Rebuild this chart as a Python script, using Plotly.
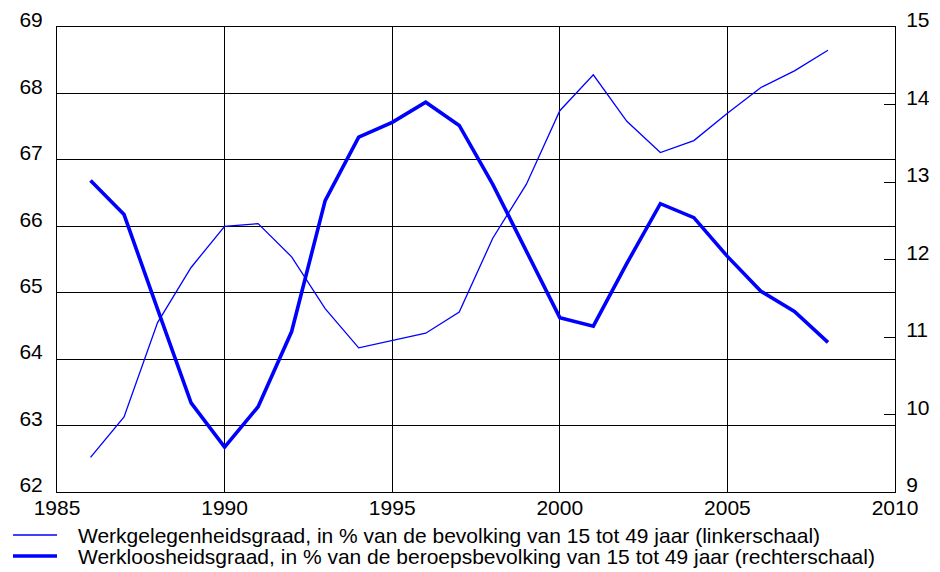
import plotly.graph_objects as go

years = list(range(1986, 2009))
werkgelegenheid = [62.52, 63.13, 64.55, 65.38, 66.00, 66.04, 65.54, 64.76, 64.17, 64.28,
                   64.39, 64.71, 65.82, 66.63, 67.74, 68.28, 67.58, 67.11, 67.29, 67.70,
                   68.09, 68.34, 68.65]
werkloosheid = [13.02, 12.58, 11.36, 10.15, 9.58, 10.10, 11.07, 12.76, 13.58, 13.77,
                14.03, 13.73, 12.97, 12.10, 11.25, 11.14, 11.95, 12.72, 12.54, 12.04,
                11.59, 11.33, 10.93]
x_ticks = [1985, 1990, 1995, 2000, 2005, 2010]
left_ticks = [62, 63, 64, 65, 66, 67, 68, 69]
right_ticks = [9, 10, 11, 12, 13, 14, 15]
legend_labels = [
    "Werkgelegenheidsgraad, in % van de bevolking van 15 tot 49 jaar (linkerschaal)",
    "Werkloosheidsgraad, in % van de beroepsbevolking van 15 tot 49 jaar (rechterschaal)",
]

FONT = "Liberation Sans, Arial, sans-serif"
BLUE = "#0000ff"
FS = 21

fig = go.Figure()
fig.add_trace(go.Scatter(x=years, y=werkgelegenheid, mode="lines", name=legend_labels[0],
                         line=dict(color=BLUE, width=1.3), yaxis="y", showlegend=False))
fig.add_trace(go.Scatter(x=years, y=werkloosheid, mode="lines", name=legend_labels[1],
                         line=dict(color=BLUE, width=3.6), yaxis="y2", showlegend=False))

# manual legend (paper coords)
plot_w = 838
plot_h = 465
def px_x(p):
    return (p - 57) / plot_w
def px_y(p):
    return (492 - p) / plot_h

widths = [1.3, 3.6]
rows = [535, 556]
for lbl, w, r in zip(legend_labels, widths, rows):
    fig.add_shape(type="line", xref="paper", yref="paper",
                  x0=px_x(13), x1=px_x(57), y0=px_y(r), y1=px_y(r),
                  line=dict(color=BLUE, width=w))
    fig.add_annotation(xref="paper", yref="paper", x=px_x(76), y=px_y(r),
                       text=lbl, showarrow=False, xanchor="left", yanchor="middle",
                       font=dict(family=FONT, size=FS, color="#000000"))

fig.update_layout(
    width=940, height=572,
    margin=dict(l=57, r=45, t=27, b=80, autoexpand=False),
    paper_bgcolor="white", plot_bgcolor="white",
    font=dict(family=FONT, size=FS, color="#000000"),
    xaxis=dict(range=[1985, 2010], tickvals=x_ticks, showgrid=True, gridcolor="black",
               gridwidth=1, showline=True, linecolor="black", linewidth=1, mirror=True,
               ticks="", zeroline=False, ticklabelstandoff=-3, automargin=False),
    yaxis=dict(range=[62, 69], tickvals=left_ticks, showgrid=True, gridcolor="black",
               gridwidth=1, showline=True, linecolor="black", linewidth=1, mirror=True,
               ticks="", zeroline=False, ticklabelshift=-7, ticklabelstandoff=9,
               automargin=False),
    yaxis2=dict(range=[9, 15], tickvals=right_ticks, overlaying="y", side="right",
                showgrid=False, showline=True, linecolor="black", linewidth=1,
                ticks="inside", ticklen=11, tickcolor="black", tickwidth=1,
                zeroline=False, ticklabelshift=-7, ticklabelstandoff=6, automargin=False),
)

fig.write_html("out.html", config={"displayModeBar": False},
               post_script="document.body.style.margin='0';document.body.style.overflow='hidden';")
